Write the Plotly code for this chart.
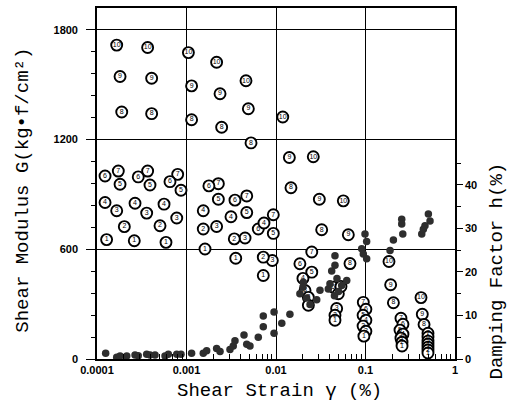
import math
import plotly.graph_objects as go

# ---- Shear modulus G (numbered open circles) ----
g_strain = [
    1.66e-4, 3.68e-4, 1.05e-3, 2.17e-3, 4.62e-3, 1.19e-2, 2.61e-2, 5.65e-2, 0.183, 0.417,
    1.81e-4, 4.08e-4, 1.14e-3, 2.37e-3, 4.91e-3, 1.41e-2, 3.05e-2, 6.43e-2, 0.191, 0.431,
    1.89e-4, 4.08e-4, 1.14e-3, 2.47e-3, 5.26e-3, 1.47e-2, 3.24e-2, 6.71e-2, 0.205, 0.451,
    1.73e-4, 3.68e-4, 7.97e-4, 2.27e-3, 4.71e-3, 9.33e-3, 2.51e-2, 9.45e-2, 0.249, 0.499,
    1.23e-4, 2.89e-4, 6.54e-4, 1.78e-3, 3.48e-3, 6.34e-3, 1.85e-2, 4.37e-2, 0.101, 0.262, 0.499,
    1.81e-4, 3.91e-4, 8.68e-4, 2.27e-3, 4.71e-3, 9.33e-3, 2.51e-2, 4.97e-2, 0.094, 0.243, 0.499,
    1.23e-4, 2.66e-4, 5.61e-4, 1.54e-3, 3.14e-3, 7.34e-3, 2.00e-2, 5.32e-2, 0.101, 0.262, 0.499,
    1.66e-4, 3.59e-4, 7.78e-4, 2.17e-3, 4.51e-3, 9.10e-3, 2.11e-2, 4.76e-2, 0.094, 0.249, 0.499,
    2.02e-4, 5.06e-4, 1.54e-3, 3.42e-3, 7.21e-3, 2.30e-2, 4.56e-2, 0.101, 0.256, 0.499,
    1.28e-4, 2.61e-4, 5.90e-4, 1.61e-3, 3.55e-3, 7.21e-3, 2.30e-2, 4.56e-2, 0.096, 0.256, 0.499,
]
g_modulus = [
    1717, 1704, 1676, 1623, 1522, 1324, 1106, 865, 533, 336,
    1545, 1536, 1494, 1451, 1369, 1102, 874, 680, 406, 245,
    1351, 1342, 1309, 1268, 1182, 937, 707, 522, 308, 189,
    1028, 1028, 1010, 959, 892, 789, 585, 310, 223, 141,
    1001, 996, 970, 947, 869, 711, 521, 393, 272, 190, 120,
    956, 952, 923, 874, 801, 687, 475, 357, 239, 158, 98,
    856, 852, 847, 811, 778, 744, 441, 397, 212, 136, 82,
    811, 798, 771, 725, 662, 539, 375, 276, 180, 114, 65,
    724, 729, 711, 657, 557, 337, 239, 152, 92, 49,
    653, 647, 638, 602, 551, 457, 294, 212, 125, 71, 33,
]
g_label = (["10"] * 10 + ["9"] * 10 + ["8"] * 10 + ["7"] * 10 + ["6"] * 11 +
           ["5"] * 11 + ["4"] * 11 + ["3"] * 11 + ["2"] * 10 + ["1"] * 11)

# ---- Damping factor h (filled dots) ----
h_strain = [
    1.25e-4, 1.66e-4, 1.81e-4, 2.15e-4, 2.66e-4, 2.89e-4, 3.59e-4, 3.91e-4, 4.45e-4, 5.75e-4,
    6.27e-4, 7.78e-4, 8.68e-4, 1.14e-3, 1.54e-3, 1.68e-3, 2.17e-3, 2.37e-3, 3.06e-3, 3.33e-3,
    3.48e-3, 4.39e-3, 4.71e-3, 5.12e-3, 6.34e-3, 7.21e-3, 7.21e-3, 9.51e-3, 9.51e-3, 1.16e-2,
    1.43e-2, 1.85e-2, 2.02e-2, 2.85e-2, 3.10e-2, 3.84e-2, 4.01e-2, 5.42e-2, 6.17e-2, 4.19e-2,
    4.56e-2, 4.56e-2, 9.07e-2, 9.45e-2, 9.87e-2, 0.103, 0.103, 0.188, 0.205, 0.254,
    0.254, 0.261, 0.425, 0.443, 0.462, 0.504, 0.526,
    2.2e-2, 2.4e-2, 4.5e-2, 5.0e-2, 4.8e-2, 2.0e-2,
]
h_values = [
    1.3, 0.4, 0.7, 0.7, 0.9, 0.75, 1.1, 0.9, 0.9, 0.7,
    1.1, 1.1, 1.1, 1.3, 1.3, 1.9, 2.4, 1.7, 2.2, 3.0,
    4.2, 5.5, 3.4, 3.0, 5.0, 7.4, 9.9, 5.9, 10.8, 8.2,
    10.3, 15.0, 17.6, 13.6, 15.8, 16.1, 17.3, 16.9, 18.0, 20.2,
    21.5, 23.7, 25.3, 24.1, 28.7, 27.0, 23.0, 24.9, 27.3, 32.1,
    31.0, 28.7, 28.7, 29.8, 30.6, 33.3, 31.7,
    14.0, 12.5, 14.5, 15.5, 18.5, 16.5,
]

x_tickvals = [1e-4, 1e-3, 1e-2, 1e-1, 1]
x_ticktext = ["0.0001", "0.001", "0.01", "0.1", "1"]
g_tickvals = [0, 600, 1200, 1800]
h_tickvals = [0, 10, 20, 30, 40]

x_minor = [m * 10 ** e for e in range(-4, 0) for m in range(2, 10)]
g_minor = [v for v in range(120, 1920, 120) if v % 600 != 0]
h_minor = [5, 15, 25, 35, 45]

fig = go.Figure()
fig.add_trace(go.Scatter(
    x=g_strain, y=g_modulus, text=g_label, mode="markers+text",
    marker=dict(symbol="circle", size=11, color="white", line=dict(color="black", width=1.9)),
    textfont=dict(family="Liberation Sans", size=7, color="black"),
    textposition="middle center", cliponaxis=False, hoverinfo="skip",
))
fig.add_trace(go.Scatter(
    x=h_strain, y=h_values, yaxis="y2", mode="markers",
    marker=dict(symbol="circle", size=7.5, color="#2e2e2e", line=dict(width=0)),
    hoverinfo="skip",
))

tickfont = dict(family="Liberation Sans", size=11, color="black", weight="bold")
fig.update_layout(
    width=507, height=409,
    margin=dict(l=97, r=52, t=6, b=50),
    plot_bgcolor="white", paper_bgcolor="white",
    showlegend=False,
    xaxis=dict(
        type="log", range=[-4, 0], tickvals=x_tickvals, ticktext=x_ticktext,
        showgrid=True, gridcolor="black", gridwidth=1.3,
        showline=True, linecolor="black", linewidth=1.6, mirror=True,
        ticks="inside", ticklen=0, zeroline=False, tickfont=tickfont,
        minor=dict(tickvals=x_minor, ticks="inside", ticklen=5, tickcolor="black",
                   tickwidth=1, showgrid=False),
    ),
    yaxis=dict(
        range=[0, 1920], tickvals=g_tickvals,
        showgrid=True, gridcolor="black", gridwidth=1.3,
        showline=True, linecolor="black", linewidth=1.6,
        ticks="outside", ticklen=9, tickcolor="black", tickwidth=1.3,
        zeroline=False, tickfont=tickfont, ticklabelstandoff=6,
        minor=dict(tickvals=g_minor, ticks="outside", ticklen=4, tickcolor="black",
                   showgrid=False),
    ),
    yaxis2=dict(
        overlaying="y", side="right", range=[0, 80.6], tickvals=h_tickvals,
        showgrid=False, showline=True, linecolor="black", linewidth=1.6,
        ticks="outside", ticklen=6, tickcolor="black", tickwidth=1.3,
        zeroline=False, tickfont=tickfont,
        minor=dict(tickvals=h_minor, ticks="outside", ticklen=4, tickcolor="black",
                   showgrid=False),
    ),
    annotations=[
        dict(text="Shear Strain \u03b3 (%)", xref="paper", yref="paper", x=0.511, y=-0.091,
             showarrow=False, font=dict(family="Liberation Mono", size=19, color="black"),
             xanchor="center", yanchor="middle"),
        dict(text="Shear Modulus G(kg\u2022f/cm\u00b2)", xref="paper", yref="paper",
             x=-0.209, y=0.48, textangle=-90, showarrow=False,
             font=dict(family="Liberation Mono", size=19, color="black"),
             xanchor="center", yanchor="middle"),
        dict(text="Damping Factor h(%)", xref="paper", yref="paper",
             x=1.117, y=0.252, textangle=-90, showarrow=False,
             font=dict(family="Liberation Mono", size=19, color="black"),
             xanchor="center", yanchor="middle"),
    ],
)

# top-edge minor ticks (shape x positions on a log axis are given in log10 units)
fig.update_layout(shapes=[
    dict(type="line", xref="x", yref="paper", x0=math.log10(v), x1=math.log10(v),
         y0=1, y1=0.986, line=dict(color="black", width=1))
    for v in x_minor
])

fig.write_html("out.html")
